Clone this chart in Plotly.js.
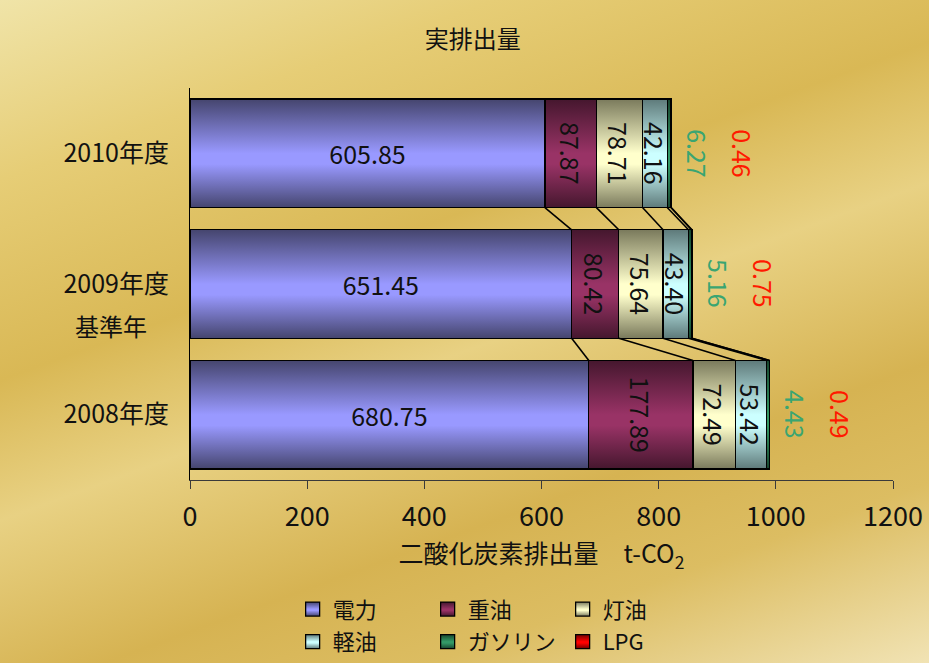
<!DOCTYPE html>
<html>
<head>
<meta charset="utf-8">
<script src="https://cdn.plot.ly/plotly-3.0.1.min.js"></script>
<style>
html,body{margin:0;padding:0;width:929px;height:663px;overflow:hidden;}
body{background:linear-gradient(160deg,#f0e4a8 0%,#e6cd76 18%,#d9b855 38%,#e8d183 52%,#d6b352 70%,#dcbd62 82%,#f1e3b4 100%);}
#chart{width:929px;height:663px;}
g.legendpoints path{d:path("M7,7H-7V-7H7Z");stroke:#000 !important;stroke-width:1.3px !important;}
g.legend g.traces:nth-child(1) g.legendpoints path{fill:url(#grad0) !important;}
g.legend g.traces:nth-child(2) g.legendpoints path{fill:url(#grad1) !important;}
g.legend g.traces:nth-child(3) g.legendpoints path{fill:url(#grad2) !important;}
g.legend2 g.traces:nth-child(1) g.legendpoints path{fill:url(#grad3) !important;}
g.legend2 g.traces:nth-child(2) g.legendpoints path{fill:url(#grad4) !important;}
g.legend2 g.traces:nth-child(3) g.legendpoints path{fill:url(#grad5) !important;}
</style>
</head>
<body>
<svg width="0" height="0" style="position:absolute"><defs id="gradDefs"></defs></svg>
<div id="chart"></div>
<script>
const categories = ['2008年度', '2009年度', '2010年度'];
const seriesNames = ['電力', '重油', '灯油', '軽油', 'ガソリン', 'LPG'];
const denryoku = [680.75, 651.45, 605.85];
const juyu = [177.89, 80.42, 87.87];
const toyu = [72.49, 75.64, 78.71];
const keiyu = [53.42, 43.40, 42.16];
const gasoline = [4.43, 5.16, 6.27];
const lpg = [0.49, 0.75, 0.46];
const xTicks = [0, 200, 400, 600, 800, 1000, 1200];

const seriesValues = [denryoku, juyu, toyu, keiyu, gasoline, lpg];
const baseColors = ['#9999ff', '#993366', '#ffffcc', '#ccffff', '#339966', '#ff0000'];
const edgeColors = ['#45456e', '#45172e', '#7a7a5c', '#5e7a7a', '#17452e', '#700000'];
const FONT = '"Noto Sans CJK JP", "Noto Sans", sans-serif';
const bargap = 0.17;

// gradient definitions (style only)
const NS = 'http://www.w3.org/2000/svg';
const defs = document.getElementById('gradDefs');
baseColors.forEach((c, i) => {
  const g = document.createElementNS(NS, 'linearGradient');
  g.setAttribute('id', 'grad' + i);
  g.setAttribute('x1', '0'); g.setAttribute('y1', '0'); g.setAttribute('x2', '0'); g.setAttribute('y2', '1');
  [[0, edgeColors[i]], [0.5, c], [0.6, c], [1, edgeColors[i]]].forEach(([o, col]) => {
    const s = document.createElementNS(NS, 'stop');
    s.setAttribute('offset', o); s.setAttribute('stop-color', col);
    g.appendChild(s);
  });
  defs.appendChild(g);
});

const traces = seriesNames.map((name, i) => {
  const t = {
    type: 'bar', orientation: 'h', name: name,
    y: categories, x: seriesValues[i],
    marker: {color: baseColors[i], line: {color: '#000000', width: 1.3}},
    legend: i < 3 ? 'legend' : 'legend2',
    hoverinfo: 'none'
  };
  if (i < 4) {
    t.texttemplate = '%{x:.2f}';
    t.textposition = 'inside';
    t.insidetextanchor = 'middle';
    t.constraintext = 'none';
    t.textangle = i === 0 ? 0 : 90;
    t.insidetextfont = {family: FONT, size: 25, color: '#111111'};
  } else {
    t.textposition = 'none';
  }
  return t;
});

// cumulative boundaries for series lines and outside labels
const cum = categories.map((c, ci) => {
  let s = 0;
  return seriesValues.map(v => (s += v[ci]));
});
const hw = (1 - bargap) / 2;
const shapes = [];
for (let ci = 0; ci < categories.length - 1; ci++) {
  for (let k = 0; k < seriesValues.length; k++) {
    shapes.push({
      type: 'line', xref: 'x', yref: 'y',
      x0: cum[ci][k], y0: ci + hw, x1: cum[ci + 1][k], y1: ci + 1 - hw,
      line: {color: '#000000', width: 1.6}
    });
  }
}
const annotations = [];
categories.forEach((c, ci) => {
  const total = cum[ci][seriesValues.length - 1];
  annotations.push({x: total, y: c, xref: 'x', yref: 'y', text: gasoline[ci].toFixed(2),
    showarrow: false, textangle: 90, xshift: 27, font: {family: FONT, size: 25, color: '#3aa572'}});
  annotations.push({x: total, y: c, xref: 'x', yref: 'y', text: lpg[ci].toFixed(2),
    showarrow: false, textangle: 90, xshift: 72, font: {family: FONT, size: 25, color: '#ff1a00'}});
});
annotations.push({x: 0, y: categories[1], xref: 'paper', yref: 'y', xanchor: 'right', xshift: -41, yshift: -41,
  text: '基準年', showarrow: false, font: {family: FONT, size: 24, color: '#111111'}});

const legendCommon = {
  orientation: 'h', xref: 'container', yref: 'container', xanchor: 'left', yanchor: 'middle',
  entrywidthmode: 'pixels', entrywidth: 90, itemwidth: 30, bgcolor: 'rgba(0,0,0,0)',
  font: {family: FONT, size: 22, color: '#111111'}, traceorder: 'normal'
};

const layout = {
  width: 929, height: 663,
  margin: {l: 190, r: 36, t: 88, b: 183},
  paper_bgcolor: 'rgba(0,0,0,0)', plot_bgcolor: 'rgba(0,0,0,0)',
  font: {family: FONT, size: 24, color: '#111111'},
  barmode: 'stack', bargap: bargap,
  title: {text: '実排出量', x: 0.509, xref: 'container', y: 0.94, yref: 'container', yanchor: 'middle', xanchor: 'center',
    font: {family: FONT, size: 24, color: '#111111'}},
  xaxis: {
    range: [0, 1200], tickvals: xTicks, ticktext: xTicks.map(String),
    showgrid: false, zeroline: false, showline: true, linecolor: '#3a3a3a', linewidth: 1,
    ticks: 'outside', ticklen: 8, tickcolor: '#3a3a3a', tickwidth: 1, ticklabelstandoff: 5,
    tickfont: {family: FONT, size: 27, color: '#111111'},
    title: {text: '二酸化炭素排出量　t-CO<sub>2</sub>', standoff: 12, font: {family: FONT, size: 25, color: '#111111'}}
  },
  yaxis: {
    type: 'category', categoryorder: 'array', categoryarray: categories,
    showgrid: false, zeroline: false, showline: true, linecolor: '#000000', linewidth: 1,
    ticks: '', ticklabelstandoff: 15,
    tickfont: {family: FONT, size: 25, color: '#111111'}
  },
  legend: Object.assign({}, legendCommon, {x: 0.315, y: 0.081}),
  legend2: Object.assign({}, legendCommon, {x: 0.315, y: 0.032}),
  shapes: shapes,
  annotations: annotations
};

function applyGradients(gd) {
  gd.querySelectorAll('.barlayer .trace').forEach(tr => {
    const d = tr.__data__;
    if (!d || !d[0] || !d[0].trace) return;
    const idx = d[0].trace.index;
    tr.querySelectorAll('path').forEach(p => { p.style.fill = 'url(#grad' + idx + ')'; });
  });
}

Plotly.newPlot('chart', traces, layout, {staticPlot: true}).then(gd => {
  applyGradients(gd);
  gd.on('plotly_afterplot', () => applyGradients(gd));
});
</script>
</body>
</html>
